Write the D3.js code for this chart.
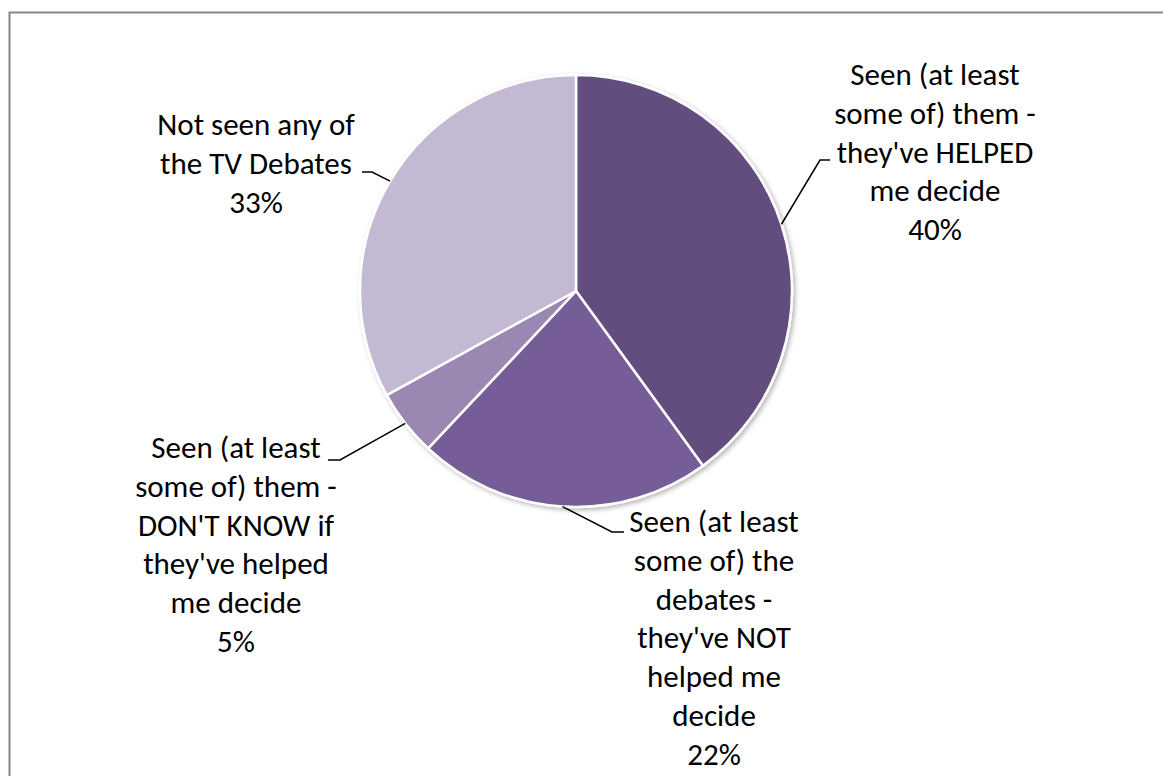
<!DOCTYPE html>
<html><head><meta charset="utf-8">
<script src="https://cdn.jsdelivr.net/npm/d3@7"></script>
<style>
html,body{margin:0;padding:0;background:#fff;}
svg{display:block;}
text{font-family:Carlito,Lato,"Liberation Sans",sans-serif;font-size:31px;fill:#000;}
</style></head>
<body>
<svg id="c" width="1163" height="776"></svg>
<script>
// ---- data ----
const categories = [
  "Seen (at least some of) them - they've HELPED me decide",
  "Seen (at least some of) the debates - they've NOT helped me decide",
  "Seen (at least some of) them - DON'T KNOW if they've helped me decide",
  "Not seen any of the TV Debates"
];
const values = [40, 22, 5, 33];
const labelLines = [
  ["Seen (at least", "some of) them -", "they've HELPED", "me decide"],
  ["Seen (at least", "some of) the", "debates -", "they've NOT", "helped me", "decide"],
  ["Seen (at least", "some of) them -", "DON'T KNOW if", "they've helped", "me decide"],
  ["Not seen any of", "the TV Debates"]
];
const colors = ["#634E7F", "#775D97", "#9A87B2", "#C3B9D2"];

// ---- layout ----
const cx = 576, cy = 291, R = 216, lineH = 38.8;
const labelLayout = [
  {x: 935, y: 85,  elbow: [820, 160], end: [830, 160]},
  {x: 714, y: 532, elbow: [612, 532], end: [624, 532]},
  {x: 236, y: 458, elbow: [340, 460], end: [328, 460]},
  {x: 256, y: 135, elbow: [372, 172], end: [362, 172]}
];

const svg = d3.select("#c");
svg.append("rect").attr("x", 9.5).attr("y", 12.5).attr("width", 1200).attr("height", 800)
  .attr("fill", "#fff").attr("stroke", "#868686").attr("stroke-width", 2);

const defs = svg.append("defs");
const f = defs.append("filter").attr("id", "sh").attr("x", "-10%").attr("y", "-10%").attr("width", "120%").attr("height", "120%");
f.append("feGaussianBlur").attr("in", "SourceAlpha").attr("stdDeviation", 2.5);
f.append("feOffset").attr("dx", 1.5).attr("dy", 2).attr("result", "b");
f.append("feComponentTransfer").append("feFuncA").attr("type", "linear").attr("slope", 0.3);
const m = f.append("feMerge");
m.append("feMergeNode");
m.append("feMergeNode").attr("in", "SourceGraphic");

const data = categories.map((c, i) => ({cat: c, value: values[i], i}));
const pie = d3.pie().value(d => d.value).sort(null);
const arcs = pie(data);
const arc = d3.arc().innerRadius(0).outerRadius(R);
const arcAnchor = d3.arc().innerRadius(R).outerRadius(R);

const g = svg.append("g").attr("transform", `translate(${cx},${cy})`);
g.append("g").attr("filter", "url(#sh)").selectAll("path").data(arcs).join("path")
  .attr("d", arc).attr("fill", d => colors[d.data.i])
  .attr("stroke", "#fff").attr("stroke-width", 2.5).attr("stroke-linejoin", "round");

// leader lines
arcs.forEach(a => {
  const L = labelLayout[a.data.i];
  const c = arcAnchor.centroid(a);
  const pts = [[cx + c[0], cy + c[1]], L.elbow, L.end];
  svg.append("path").attr("d", d3.line()(pts)).attr("fill", "none")
    .attr("stroke", "#000").attr("stroke-width", 1.5);
});

// labels
arcs.forEach(a => {
  const i = a.data.i, L = labelLayout[i];
  const lines = labelLines[i].concat([Math.round(a.value) + "%"]);
  const t = svg.append("text").attr("text-anchor", "middle");
  lines.forEach((s, k) => t.append("tspan").attr("x", L.x).attr("y", L.y + k * lineH).text(s));
});
</script>
</body></html>
